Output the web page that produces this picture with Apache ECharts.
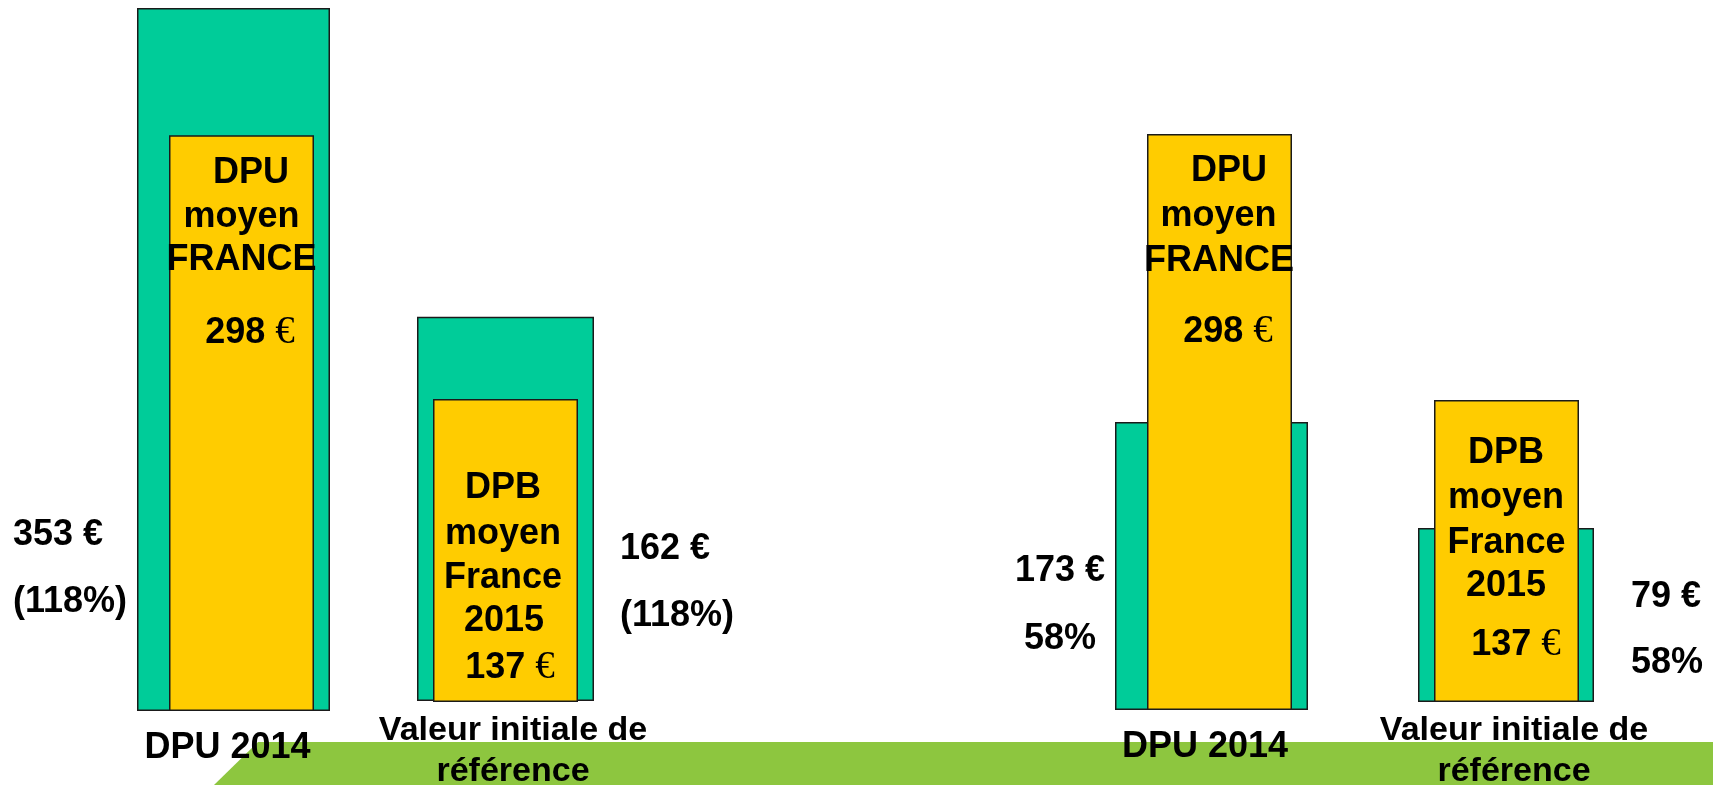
<!DOCTYPE html>
<html>
<head>
<meta charset="utf-8">
<title>DPU / DPB</title>
<script src="https://cdn.jsdelivr.net/npm/echarts@6/dist/echarts.min.js"></script>
<style>
    html, body { margin: 0; padding: 0; background: #ffffff; }
    #main { width: 1713px; height: 785px; }
</style>
</head>
<body>
<div id="main"></div>
<script>
    // données du graphique
    var categories = ['DPU 2014', 'Valeur initiale de\nréférence', 'DPU 2014', 'Valeur initiale de\nréférence'];
    var greenValues = [353, 162, 173, 79];      // valeur de l'exploitation
    var yellowValues = [298, 137, 298, 137];    // moyenne France
    var shareLabels = ['(118%)', '(118%)', '58%', '58%'];
    var innerTitles = [
        ['DPU', 'moyen', 'FRANCE'],
        ['DPB', 'moyen', 'France', '2015'],
        ['DPU', 'moyen', 'FRANCE'],
        ['DPB', 'moyen', 'France', '2015']
    ];

    // mise en page (px) : une grille par barre
    var greenBox = [
        {left: 137, width: 193, base: 711, max: 357},
        {left: 417, width: 177, base: 701, max: 295.5},
        {left: 1115, width: 193, base: 710, max: 426.5},
        {left: 1418, width: 176, base: 702, max: 318.7}
    ];
    var yellowBox = [
        {left: 169, width: 145, base: 711, max: 368},
        {left: 433, width: 145, base: 702, max: 317.4},
        {left: 1147, width: 145, base: 710, max: 367.3},
        {left: 1434, width: 145, base: 702, max: 318.5}
    ];
    // position des textes dans les barres jaunes
    var titlePos = [
        {x: [251, 241.5, 241.5], y: [182, 226, 269], vx: 250, vy: 342},
        {x: [503, 503, 503, 504], y: [497, 543, 587, 630], vx: 510, vy: 677},
        {x: [1229, 1218.5, 1219], y: [180, 225, 270], vx: 1228, vy: 341.5},
        {x: [1506, 1506, 1506.5, 1506], y: [462, 507, 552, 595], vx: 1516, vy: 654}
    ];
    // textes à côté des barres vertes
    var sidePos = [
        {x: 13, align: 'left', y1: 544, y2: 611},
        {x: 620, align: 'left', y1: 558, y2: 625},
        {x: 1060, align: 'center', y1: 580, y2: 648},
        {x: 1631, align: 'left', y1: 606, y2: 672}
    ];
    var catPos = [
        {x: 227.5, y: [757], size: 36},
        {x: 513, y: [739, 780], size: 34},
        {x: 1205, y: [756], size: 36},
        {x: 1514, y: [739, 780], size: 34}
    ];

    var SANS = '"Liberation Sans", Arial, Helvetica, sans-serif';
    var SERIF = '"Liberation Serif", "Times New Roman", serif';
    var GREEN = '#00cc99';
    var YELLOW = '#ffcc00';

    // texte placé sur sa ligne de base (middle = demi hauteur d'x)
    function txt(x, base, text, size, align, rich) {
        var style = {
            text: text,
            x: 0,
            y: 0,
            fill: '#000',
            font: 'bold ' + size + 'px ' + SANS,
            align: align,
            textAlign: align,
            verticalAlign: 'middle',
            textVerticalAlign: 'middle'
        };
        if (rich) style.rich = rich;
        return {type: 'text', x: x, y: base - 0.26 * size, z: 100, style: style};
    }

    var euroRich = {
        n: {fontFamily: SANS, fontWeight: 'bold', fontSize: 36, color: '#000'},
        e: {fontFamily: SERIF, fontWeight: 'normal', fontSize: 39, color: '#000'}
    };

    var grids = [], xAxes = [], yAxes = [], series = [];

    function addBar(box, value, color, idx) {
        grids.push({left: box.left, width: box.width, top: 0, height: box.base});
        xAxes.push({type: 'category', gridIndex: idx, data: [categories[idx % 4]], show: false});
        yAxes.push({type: 'value', gridIndex: idx, min: 0, max: box.max, show: false, splitLine: {show: false}});
        series.push({
            type: 'bar',
            xAxisIndex: idx,
            yAxisIndex: idx,
            barWidth: '100%',
            data: [value],
            itemStyle: {color: color, borderColor: '#1a1a1a', borderWidth: 1.5},
            label: {show: false},
            silent: true
        });
    }

    greenValues.forEach(function (v, i) { addBar(greenBox[i], v, GREEN, i); });
    yellowValues.forEach(function (v, i) { addBar(yellowBox[i], v, YELLOW, i + 4); });

    var elements = [];
    // bandeau vert du bas de la diapo
    elements.push({
        type: 'polygon',
        z: 0,
        shape: {points: [[258, 742], [1713, 742], [1713, 785], [214, 785]]},
        style: {fill: '#8dc63f'},
        silent: true
    });

    for (var i = 0; i < 4; i++) {
        var tp = titlePos[i];
        innerTitles[i].forEach(function (line, k) {
            elements.push(txt(tp.x[k], tp.y[k], line, 36, 'center'));
        });
        elements.push(txt(tp.vx, tp.vy, '{n|' + yellowValues[i] + ' }{e|€}', 36, 'center', euroRich));

        var sp = sidePos[i];
        elements.push(txt(sp.x, sp.y1, greenValues[i] + ' €', 36, sp.align));
        elements.push(txt(sp.x, sp.y2, shareLabels[i], 36, sp.align));

        var cp = catPos[i];
        categories[i].split('\n').forEach(function (line, k) {
            elements.push(txt(cp.x, cp.y[k], line, cp.size, 'center'));
        });
    }

    var chart = echarts.init(document.getElementById('main'));
    chart.setOption({
        animation: false,
        backgroundColor: '#ffffff',
        grid: grids,
        xAxis: xAxes,
        yAxis: yAxes,
        series: series,
        graphic: {elements: elements}
    });
</script>
</body>
</html>
